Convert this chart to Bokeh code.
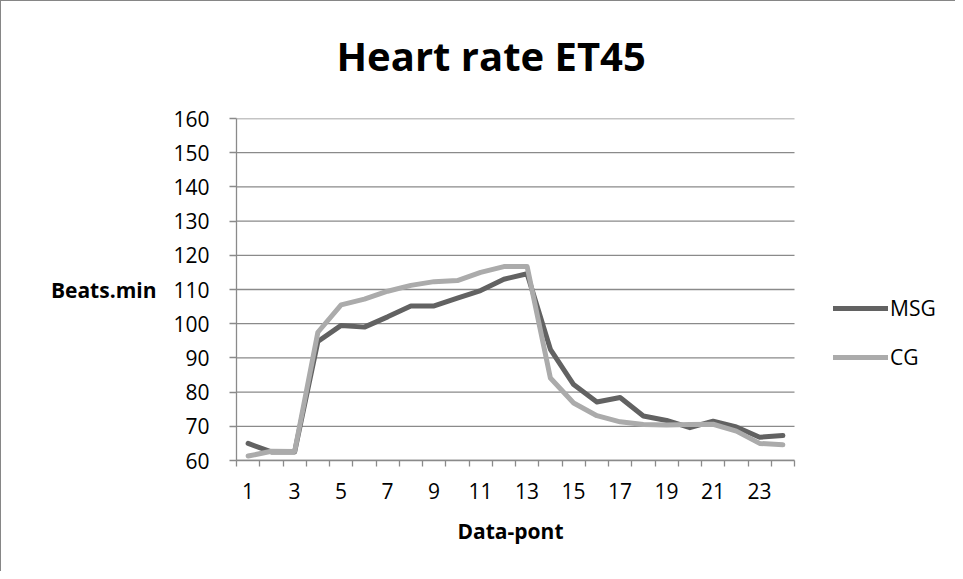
from bokeh.plotting import figure
from bokeh.models import FixedTicker, Range1d, Legend, LegendItem, Title
from bokeh.embed import file_html
from bokeh.resources import INLINE

# ---- data ----
points = list(range(1, 25))
msg = [65.0, 62.5, 62.5, 94.8, 99.5, 99.0, 102.0, 105.2, 105.2, 107.5, 109.7, 113.0,
       114.6, 92.5, 82.2, 77.1, 78.4, 73.0, 71.7, 69.6, 71.5, 69.8, 66.8, 67.3]
cg = [61.3, 62.7, 62.6, 97.5, 105.5, 107.2, 109.5, 111.2, 112.3, 112.6, 115.0, 116.7,
      116.7, 84.1, 76.8, 73.1, 71.3, 70.5, 70.4, 70.5, 70.6, 68.6, 65.0, 64.6]
x_tick_labels = [1, 3, 5, 7, 9, 11, 13, 15, 17, 19, 21, 23]
y_ticks = [60, 70, 80, 90, 100, 110, 120, 130, 140, 150, 160]
title_text = "Heart rate ET45"
x_label = "Data-pont"
y_label = "Beats.min"
series_names = ["MSG", "CG"]

FONT = "Open Sans"
GRID = "#8a8a8a"

W, H = 955, 571
LEFT, TOP, BOTTOM, RIGHT_PAD = 235, 117, 112, 5
AXIS_PX = 558  # pixel width of the 24 categories
x0, x1 = 0.5, len(points) + 0.5
frame_w = W - LEFT - RIGHT_PAD
x_end = x0 + frame_w * (x1 - x0) / AXIS_PX

p = figure(width=W, height=H, output_backend="svg", toolbar_location=None,
           x_range=Range1d(x0, x_end), y_range=Range1d(60, 160),
           min_border_left=LEFT, min_border_right=RIGHT_PAD, min_border_top=TOP,
           min_border_bottom=BOTTOM)
p.outline_line_color = None
p.border_fill_color = "white"
p.background_fill_color = "white"

# spacer between frame and title
spacer = Title(text=" ", text_font_size="1px", standoff=33)
p.add_layout(spacer, "above")

# title
p.title.text = title_text
p.title.text_font = FONT
p.title.text_font_style = "bold"
p.title.text_font_size = "40px"
p.title.text_color = "black"
p.title.align = "left"
p.title.vertical_align = "bottom"
p.title.offset = 100
p.title.standoff = 0

# axes
xa = p.xaxis[0]
xa.bounds = (x0, x1)
xa.ticker = FixedTicker(ticks=x_tick_labels, minor_ticks=[i + 0.5 for i in range(0, 25)])
xa.major_tick_out = 0
xa.major_tick_in = 0
xa.minor_tick_out = 6
xa.minor_tick_in = 0
xa.minor_tick_line_color = GRID
xa.minor_tick_line_width = 1.3
xa.axis_line_color = GRID
xa.axis_line_width = 1.3
xa.major_label_text_font = FONT
xa.major_label_text_font_size = "21px"
xa.major_label_text_color = "black"
xa.major_label_standoff = 16

# x axis title, centred under the category span
xt = Title(text=x_label, align="left", offset=221, vertical_align="top", standoff=30,
           text_font=FONT, text_font_style="bold", text_font_size="21px",
           text_color="black")
p.add_layout(xt, "below")

ya = p.yaxis[0]
ya.ticker = FixedTicker(ticks=y_ticks)
ya.major_tick_out = 7
ya.major_tick_in = 0
ya.minor_tick_out = 0
ya.minor_tick_in = 0
ya.major_tick_line_color = GRID
ya.major_tick_line_width = 1.3
ya.axis_line_color = GRID
ya.axis_line_width = 1.3
ya.major_label_text_font = FONT
ya.major_label_text_font_size = "21px"
ya.major_label_text_color = "black"
ya.major_label_standoff = 20
ya.axis_label = y_label
ya.axis_label_orientation = "horizontal"
ya.axis_label_text_font = FONT
ya.axis_label_text_font_style = "bold"
ya.axis_label_text_font_size = "21px"
ya.axis_label_text_color = "black"
ya.axis_label_standoff = 14

p.xgrid.visible = False
p.ygrid.visible = False
# horizontal gridlines limited to the category span
p.segment(x0=[x0] * len(y_ticks), x1=[x1] * len(y_ticks), y0=y_ticks, y1=y_ticks,
          line_color=GRID, line_width=1.3)

r1 = p.line(points, msg, line_color="#626262", line_width=5, line_join="round", line_cap="round")
r2 = p.line(points, cg, line_color="#ababab", line_width=5, line_join="round", line_cap="round")

legend = Legend(items=[LegendItem(label=series_names[0], renderers=[r1]),
                       LegendItem(label=series_names[1], renderers=[r2])],
                location=(597, 89), orientation="vertical",
                label_text_font=FONT, label_text_font_size="21px", label_text_color="black",
                glyph_width=55, glyph_height=20, label_height=20, label_standoff=2,
                spacing=21, padding=0, margin=0,
                border_line_color=None, background_fill_alpha=0)
p.add_layout(legend, "center")

p.styles = {"border-left": "1px solid #868686", "border-top": "1px solid #868686"}

open("out.html", "w").write(file_html(p, INLINE))
